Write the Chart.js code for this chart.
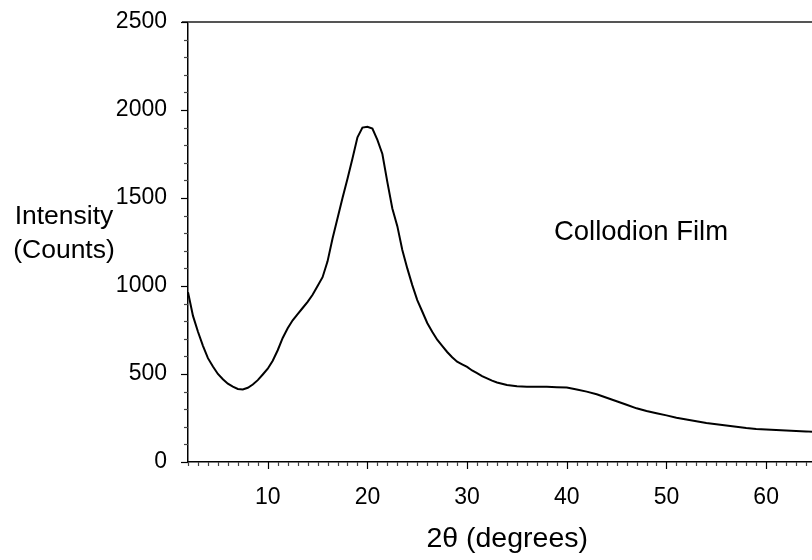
<!DOCTYPE html>
<html>
<head>
<meta charset="utf-8">
<title>Collodion Film XRD</title>
<script src="https://cdn.jsdelivr.net/npm/chart.js@4.4.1/dist/chart.umd.min.js"></script>
<style>
  html, body { margin: 0; padding: 0; background: #fff; }
  #wrap { width: 812px; height: 560px; }
</style>
</head>
<body>
<div id="wrap"><canvas id="xrd" width="812" height="560"></canvas></div>
<script>
// ─── Data ─────────────────────────────────────────────────────────────────────

const twoTheta = [
  2.0, 2.5, 3.0, 3.5, 4.0, 4.5, 5.0, 5.5, 6.0, 6.5, 7.0, 7.5, 8.0, 8.5, 9.0, 9.5,
  10.0, 10.5, 11.0, 11.5, 12.0, 12.5, 13.0, 13.5, 14.0, 14.5, 15.0, 15.5, 16.0, 16.5,
  17.0, 17.5, 18.0, 18.5, 19.0, 19.5, 20.0, 20.5, 21.0, 21.5, 22.0, 22.5, 23.0, 23.5,
  24.0, 24.5, 25.0, 25.5, 26.0, 26.5, 27.0, 27.5, 28.0, 28.5, 29.0, 29.5, 30.0, 30.5,
  31.0, 31.5, 32.0, 32.5, 33.0, 33.5, 34.0, 35.0, 36.0, 37.0, 38.0, 39.0, 40.0, 41.0,
  42.0, 43.0, 44.0, 45.0, 46.0, 47.0, 48.0, 49.0, 50.0, 51.0, 52.0, 53.0, 54.0, 55.0,
  56.0, 57.0, 58.0, 59.0, 60.0, 61.0, 62.0, 63.0, 64.0, 64.6
];

const counts = [
  965, 830, 740, 660, 590, 543, 500, 470, 445, 428, 415, 412, 422, 440, 465, 497,
  530, 575, 635, 705, 760, 805, 840, 875, 910, 950, 1000, 1050, 1140, 1270,
  1385, 1500, 1610, 1725, 1845, 1900, 1905, 1895, 1830, 1750, 1590, 1440, 1340, 1205,
  1100, 1005, 920, 855, 790, 740, 695, 660, 625, 595, 570, 555, 540, 520,
  505, 488, 475, 462, 452, 445, 438, 430, 428, 428, 427, 425, 423, 412,
  400, 385, 365, 345, 325, 305, 290, 277, 265, 252, 242, 232, 222, 215,
  208, 200, 193, 188, 185, 182, 179, 176, 174, 172
];

const xMin = 2, xMax = 64.6;
const yMin = 0, yMax = 2500;
const xMajor = 10, xMinor = 1;
const yMajor = 500, yMinor = 100;

const FONT = "'Liberation Sans', Arial, sans-serif";

// ─── Ticks, frame and free text ───────────────────────────────────────────────

const decorPlugin = {
  id: "decor",
  afterDraw(chart) {
    const { ctx, chartArea, scales } = chart;
    const xs = scales.x, ys = scales.y;
    ctx.save();

    // top frame line
    ctx.strokeStyle = "#555";
    ctx.lineWidth = 2;
    ctx.beginPath();
    ctx.moveTo(chartArea.left - 6, chartArea.top);
    ctx.lineTo(chartArea.right, chartArea.top);
    ctx.stroke();

    // y ticks (outside, left)
    ctx.lineWidth = 1.2;
    for (let v = yMin; v <= yMax; v += yMinor) {
      const major = v % yMajor === 0;
      const py = Math.round(ys.getPixelForValue(v)) + 0.5;
      ctx.strokeStyle = major ? "#000" : "#444";
      ctx.beginPath();
      ctx.moveTo(chartArea.left, py);
      ctx.lineTo(chartArea.left - (major ? 7 : 4), py);
      ctx.stroke();
    }

    // x ticks (outside, below)
    for (let v = Math.ceil(xMin); v <= xMax; v += xMinor) {
      const major = v % xMajor === 0;
      const px = Math.round(xs.getPixelForValue(v)) + 0.5;
      ctx.strokeStyle = major ? "#000" : "#444";
      ctx.beginPath();
      ctx.moveTo(px, chartArea.bottom);
      ctx.lineTo(px, chartArea.bottom + (major ? 7 : 4));
      ctx.stroke();
    }

    ctx.fillStyle = "#000";
    ctx.textBaseline = "middle";

    // y title (horizontal, two lines)
    ctx.font = "26.5px " + FONT;
    ctx.textAlign = "center";
    ctx.fillText("Intensity", 64, 217);
    ctx.fillText("(Counts)", 64, 251);

    // sample label
    ctx.font = "27.5px " + FONT;
    ctx.fillText("Collodion Film", 641, 232);

    // x title
    ctx.font = "28.5px " + FONT;
    ctx.textAlign = "right";
    ctx.fillText("2θ (degrees)", 588, 539);

    ctx.restore();
  },
};

// ─── Chart ────────────────────────────────────────────────────────────────────

const points = twoTheta.map((t, i) => ({ x: t, y: counts[i] }));

new Chart(document.getElementById("xrd"), {
  type: "line",
  data: {
    datasets: [
      {
        data: points,
        borderColor: "#000",
        borderWidth: 2,
        pointRadius: 0,
        tension: 0,
        fill: false,
      },
    ],
  },
  options: {
    responsive: false,
    animation: false,
    layout: { padding: { top: 22, right: 0, left: 0, bottom: 0 } },
    plugins: { legend: { display: false }, tooltip: { enabled: false } },
    scales: {
      x: {
        type: "linear",
        min: xMin,
        max: xMax,
        grid: { display: false },
        border: { display: true, color: "#000", width: 1.5 },
        ticks: {
          stepSize: xMajor,
          includeBounds: false,
          autoSkip: false,
          maxRotation: 0,
          padding: 14,
          color: "#000",
          font: { family: FONT, size: 23 },
          callback: (v) => (v % xMajor === 0 ? String(v) : ""),
        },
        afterFit(scale) {
          scale.height = 98;
          scale.paddingLeft = 0;
          scale.paddingRight = 0;
        },
      },
      y: {
        min: yMin,
        max: yMax,
        grid: { display: false },
        border: { display: true, color: "#000", width: 1.5 },
        ticks: {
          stepSize: yMajor,
          padding: 13,
          color: "#000",
          font: { family: FONT, size: 23 },
          callback: (v) => String(v),
        },
        afterFit(scale) {
          scale.width = 188;
          scale.paddingTop = 0;
          scale.paddingBottom = 0;
        },
      },
    },
  },
  plugins: [decorPlugin],
});
</script>
</body>
</html>
